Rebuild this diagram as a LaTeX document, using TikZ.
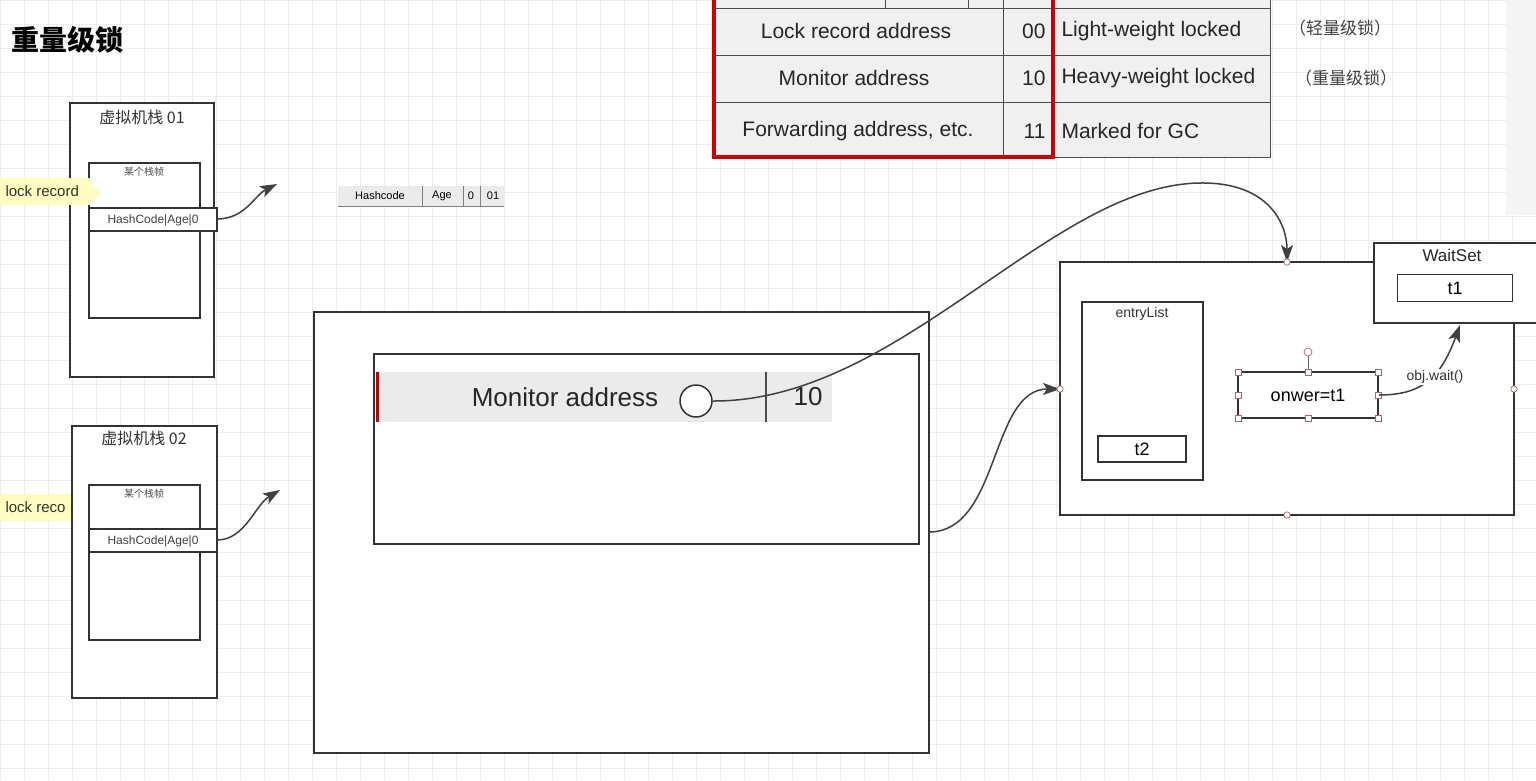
\documentclass[tikz,border=0pt]{standalone}
\usepackage{fontspec}
\setmainfont{Liberation Sans}
\newfontfamily\cjk{Noto Sans CJK SC}
\usetikzlibrary{arrows.meta}
\begin{document}
\begin{tikzpicture}[x=1pt,y=-1pt,
  box/.style={draw=black!80,line width=1.5pt,fill=white},
  thin/.style={draw=black!80,line width=1.1pt,fill=white},
  cell/.style={draw=black!70,line width=0.9pt,fill=black!6},
  conn/.style={draw=black!75,line width=1.5pt,-{Stealth[length=17pt,width=12pt,inset=4pt]}},
  hnd/.style={draw=red!40!black!60,fill=white,line width=0.7pt},
  tt/.style={font=\fontsize{21}{24}\selectfont,text=black!85}]
\useasboundingbox (0,0) rectangle (1536,780);
\fill[white] (0,0) rectangle (1536,780);
\foreach \i in {0,24,...,1536} \draw[black!7,line width=0.5pt] (\i,0) -- (\i,780);
\foreach \j in {0,24,...,780} \draw[black!7,line width=0.5pt] (0,\j) -- (1536,\j);
% title
\node[anchor=west,font=\cjk\bfseries\fontsize{28}{30}\selectfont] (title) at (8,40) {重量级锁};
% table
\path[cell] (713,-5) rectangle (1270,8);
\draw[black!70,line width=0.9pt] (885,-5)--(885,8) (968,-5)--(968,8);
\path[cell] (713,8) rectangle (1270,55);
\path[cell] (713,55) rectangle (1270,102);
\path[cell] (713,102) rectangle (1270,157);
\draw[black!70,line width=0.9pt] (1003,-5)--(1003,157) (1053,-5)--(1053,157);
\node[tt] (r1) at (856,31) {Lock record address};
\node[tt] (r2) at (854,78) {Monitor address};
\node[tt] (r3) at (858,131) {Forwarding address, etc.};
\node[tt,anchor=east] (b1) at (1049,31) {00};
\node[tt,anchor=east] (b2) at (1049,78) {10};
\node[tt,anchor=east] (b3) at (1049,131) {11};
\node[tt,anchor=west] (s1) at (1058,31) {Light-weight locked};
\node[tt,anchor=west] (s2) at (1058,78) {Heavy-weight locked};
\node[tt,anchor=west] (s3) at (1058,131) {Marked for GC};
\draw[red!80!black,line width=3.5pt] (714,-5) rectangle (1053,157);
\node[font=\cjk\fontsize{17}{19}\selectfont,text=black!75] (n1) at (1340,28) {（轻量级锁）};
\node[font=\cjk\fontsize{17}{19}\selectfont,text=black!75] (n2) at (1346,78) {（重量级锁）};
% toolbar strip
\fill[black!4] (1506,0) rectangle (1536,215);
% hashcode bar
\path[fill=black!8] (338,186) rectangle (504,206);
\draw[black!50,line width=0.6pt] (338,206)--(504,206) (422,186)--(422,206) (463,186)--(463,206) (480,186)--(480,206);
\node[font=\fontsize{11}{12}\selectfont] (hc) at (380,196) {Hashcode};
\node[font=\fontsize{11}{12}\selectfont] (ag) at (442,196) {Age};
\node[font=\fontsize{11}{12}\selectfont] (z0) at (471,196) {0};
\node[font=\fontsize{11}{12}\selectfont] (z1) at (493,196) {01};
% stack 1
\path[box] (70,103) rectangle (214,377);
\node[font=\cjk\fontsize{16}{18}\selectfont,text=black!80] (st1) at (142,117) {虚拟机栈 01};
\path[thin] (89,163) rectangle (200,318);
\node[font=\cjk\fontsize{10}{11}\selectfont,text=black!70] (f1) at (144,172) {某个栈帧};
\path[thin] (89,208) rectangle (217,231);
\node[font=\fontsize{12}{13}\selectfont,text=black!75] (hb1) at (153,220) {HashCode|Age|0};
\fill[yellow!25] (0,178) rectangle (90,205);
\fill[yellow!25] (88,180) -- (101,193) -- (88,205) -- cycle;
\node[anchor=west,font=\fontsize{15}{16}\selectfont,text=black!80] (lr1) at (2,191) {lock record};
\coordinate (e1) at (277,184);
\draw[conn] (217,219) .. controls (245,219) and (255,195) .. (e1);
% stack 2
\fill[yellow!25] (0,494) rectangle (80,521);
\node[anchor=west,font=\fontsize{15}{16}\selectfont,text=black!80] (lr2) at (2,507) {lock reco};
\path[box] (72,426) rectangle (217,698);
\node[font=\cjk\fontsize{16}{18}\selectfont,text=black!80] (st2) at (144,438) {虚拟机栈 02};
\path[thin] (89,485) rectangle (200,640);
\node[font=\cjk\fontsize{10}{11}\selectfont,text=black!70] (f2) at (144,494) {某个栈帧};
\path[thin] (89,529) rectangle (217,552);
\node[font=\fontsize{12}{13}\selectfont,text=black!75] (hb2) at (153,541) {HashCode|Age|0};
\coordinate (e2) at (280,490);
\draw[conn] (217,540) .. controls (245,540) and (255,505) .. (e2);
% object
\path[box] (314,312) rectangle (929,753);
\path[box] (374,354) rectangle (919,544);
\fill[black!8] (376,372) rectangle (832,422);
\draw[red!75!black,line width=3pt] (377,372)--(377,422);
\draw[black!70,line width=1.2pt] (766,372)--(766,422);
\node[font=\fontsize{26}{28}\selectfont,text=black!85] (ma) at (565,397) {Monitor address};
\node[font=\fontsize{26}{28}\selectfont,text=black!85] (ten) at (808,397) {10};
\node[circle,draw=black!80,line width=1.5pt,fill=white,minimum size=32pt,inner sep=0] (cc) at (696,401) {};
% monitor
\path[box] (1060,262) rectangle (1514,515);
\coordinate (mt) at (1287,262);
\coordinate (ml) at (1060,389);
\draw[conn] (cc.east) .. controls (900,402) and (1050,185) .. (1200,183) .. controls (1270,182) and (1287,225) .. (mt);
\draw[conn] (929,532) .. controls (1000,532) and (990,389) .. (ml);
\foreach \p in {(1287,262),(1060,389),(1287,515),(1514,389)} \draw[hnd] \p circle (3.2pt);
\path[box] (1082,302) rectangle (1203,480);
\node[font=\fontsize{14}{15}\selectfont,text=black!80] (el) at (1142,314) {entryList};
\node[thin,minimum width=88pt,minimum height=26pt,font=\fontsize{18}{20}\selectfont] (t2) at (1142,449) {t2};
\node[draw=black!80,line width=1.5pt,fill=white,minimum width=140pt,minimum height=46pt,font=\fontsize{18}{20}\selectfont] (ow) at (1308,395) {onwer=t1};
\draw[black!60,line width=0.7pt] (1308,372)--(1308,352);
\draw[hnd] (1308,352) circle (4pt);
\foreach \p in {(1238,372),(1308,372),(1378,372),(1238,395),(1378,395),(1238,418),(1308,418),(1378,418)}
  \draw[hnd] \p +(-3,-3) rectangle +(3,3);
% waitset
\path[box] (1374,243) rectangle (1540,323);
\node[font=\fontsize{17}{19}\selectfont,text=black!85] (ws) at (1452,255) {WaitSet};
\node[thin,minimum width=115pt,minimum height=27pt,font=\fontsize{18}{20}\selectfont] (t1) at (1455,288) {t1};
\coordinate (wt) at (1460,325);
\draw[conn] (ow.east) .. controls (1420,395) and (1440,380) .. (wt);
\node[font=\fontsize{14}{15}\selectfont,text=black!80,fill=white,inner sep=1pt] (owt) at (1435,377) {obj.wait()};
\end{tikzpicture}
\end{document}
